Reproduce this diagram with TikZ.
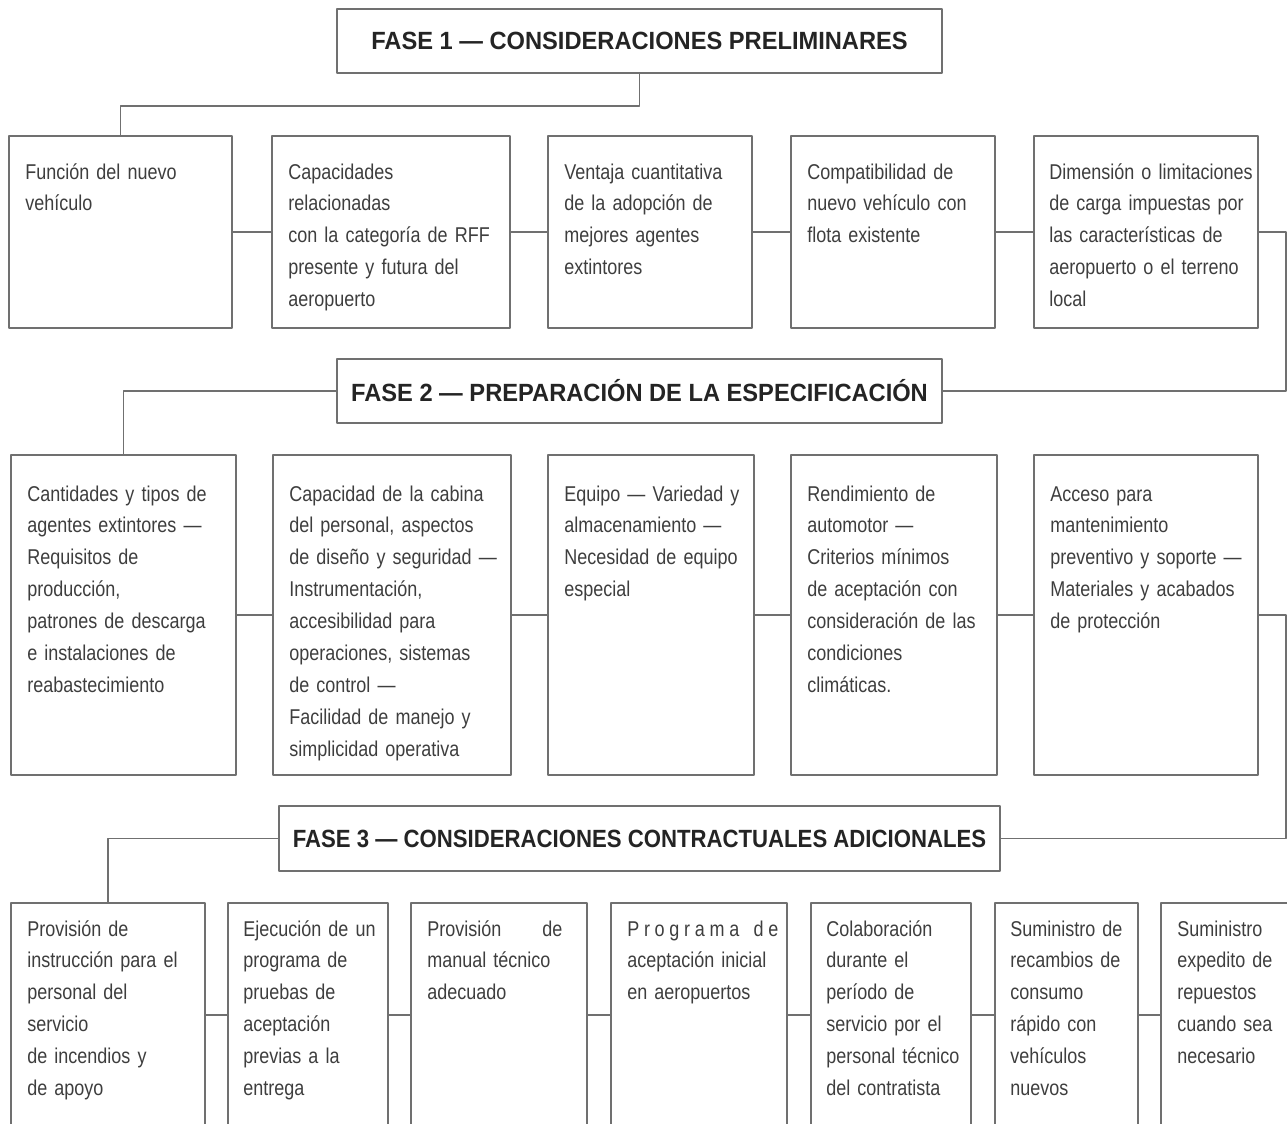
\documentclass[tikz,border=0pt]{standalone}
\usepackage{fontspec}
\setmainfont{Liberation Sans}
\newfontfamily\bodyfont[FakeStretch=0.84]{Liberation Sans}
\newfontfamily\headfont[FakeStretch=0.95]{Liberation Sans}
\newfontfamily\headnarrow[FakeStretch=0.89]{Liberation Sans}
\definecolor{framegray}{RGB}{112,112,112}
\definecolor{inkgray}{RGB}{62,62,62}
\definecolor{headgray}{RGB}{36,36,36}
\newcommand{\spreadline}[2]{\hbox to #1{#2}}
\tikzset{
  fasebox/.style={draw=framegray,line width=1.8bp,rectangle,inner sep=0pt,minimum height=64bp,
    text=headgray,font=\headfont\fontsize{25}{30}\selectfont\bfseries},
  itembox/.style={draw=framegray,line width=1.8bp,rectangle,inner sep=0pt},
  rowone/.style={itembox,minimum height=192bp},
  rowtwo/.style={itembox,minimum height=320bp},
  rowthree/.style={itembox,minimum height=224bp},
  itemtext/.style={anchor=base west,inner sep=0pt,text width=300bp,align=left,
    text=inkgray,font=\bodyfont\fontsize{21.5}{32}\selectfont},
  link/.style={draw=framegray,line width=1.8bp},
}
\begin{document}
\begin{tikzpicture}[line join=bevel,]
    \useasboundingbox[fill=white] (0bp,0bp) rectangle (1287bp,1124bp);
    %% phases
    \node (fase1) at (639.5bp,1083.0bp) [fasebox,minimum width=605bp] {FASE 1 — CONSIDERACIONES PRELIMINARES};
    \node (fase2) at (639.5bp,733.0bp) [fasebox,minimum width=605bp] {FASE 2 — PREPARACIÓN DE LA ESPECIFICACIÓN};
    \node (fase3) at (639.5bp,285.5bp) [fasebox,minimum width=721bp,minimum height=65bp,font=\headnarrow\fontsize{25}{30}\selectfont\bfseries] {FASE 3 — CONSIDERACIONES CONTRACTUALES ADICIONALES};
    %% row 1
    \node (b11) at (120.5bp,892.0bp) [rowone,minimum width=223bp] {};
    \node (b12) at (391.0bp,892.0bp) [rowone,minimum width=238bp] {};
    \node (b13) at (650.0bp,892.0bp) [rowone,minimum width=204bp] {};
    \node (b14) at (893.0bp,892.0bp) [rowone,minimum width=204bp] {};
    \node (b15) at (1146.0bp,892.0bp) [rowone,minimum width=224bp] {};
    \node (t11) at ([shift={(17bp,-44bp)}]b11.north west) [itemtext] {Función del nuevo\\vehículo};
    \node (t12) at ([shift={(17bp,-44bp)}]b12.north west) [itemtext] {Capacidades\\relacionadas\\con la categoría de RFF\\presente y futura del\\aeropuerto};
    \node (t13) at ([shift={(17bp,-44bp)}]b13.north west) [itemtext] {Ventaja cuantitativa\\de la adopción de\\mejores agentes\\extintores};
    \node (t14) at ([shift={(17bp,-44bp)}]b14.north west) [itemtext] {Compatibilidad de\\nuevo vehículo con\\flota existente};
    \node (t15) at ([shift={(16bp,-44bp)}]b15.north west) [itemtext] {Dimensión o limitaciones\\de carga impuestas por\\las características de\\aeropuerto o el terreno\\local};
    %% row 2
    \node (b21) at (123.5bp,509.0bp) [rowtwo,minimum width=225bp] {};
    \node (b22) at (392.0bp,509.0bp) [rowtwo,minimum width=238bp] {};
    \node (b23) at (651.0bp,509.0bp) [rowtwo,minimum width=206bp] {};
    \node (b24) at (894.0bp,509.0bp) [rowtwo,minimum width=206bp] {};
    \node (b25) at (1146.0bp,509.0bp) [rowtwo,minimum width=224bp] {};
    \node (t21) at ([shift={(17bp,-47bp)}]b21.north west) [itemtext] {Cantidades y tipos de\\agentes extintores —\\Requisitos de\\producción,\\patrones de descarga\\e instalaciones de\\reabastecimiento};
    \node (t22) at ([shift={(17bp,-47bp)}]b22.north west) [itemtext] {Capacidad de la cabina\\del personal, aspectos\\de diseño y seguridad —\\Instrumentación,\\accesibilidad para\\operaciones, sistemas\\de control —\\Facilidad de manejo y\\simplicidad operativa};
    \node (t23) at ([shift={(17bp,-47bp)}]b23.north west) [itemtext] {Equipo — Variedad y\\almacenamiento —\\Necesidad de equipo\\especial};
    \node (t24) at ([shift={(17bp,-47bp)}]b24.north west) [itemtext] {Rendimiento de\\automotor —\\Criterios mínimos\\de aceptación con\\consideración de las\\condiciones\\climáticas.};
    \node (t25) at ([shift={(17bp,-47bp)}]b25.north west) [itemtext] {Acceso para\\mantenimiento\\preventivo y soporte —\\Materiales y acabados\\de protección};
    %% row 3
    \node (b31) at (108.0bp,109.0bp) [rowthree,minimum width=194bp] {};
    \node (b32) at (308.0bp,109.0bp) [rowthree,minimum width=160bp] {};
    \node (b33) at (499.0bp,109.0bp) [rowthree,minimum width=176bp] {};
    \node (b34) at (699.0bp,109.0bp) [rowthree,minimum width=176bp] {};
    \node (b35) at (891.0bp,109.0bp) [rowthree,minimum width=160bp] {};
    \node (b36) at (1066.5bp,109.0bp) [rowthree,minimum width=143bp] {};
    \node (b37) at (1236.0bp,109.0bp) [rowthree,minimum width=150bp] {};
    \node (t31) at ([shift={(17bp,-34bp)}]b31.north west) [itemtext] {Provisión de\\instrucción para el\\personal del\\servicio\\de incendios y\\de apoyo};
    \node (t32) at ([shift={(16bp,-34bp)}]b32.north west) [itemtext] {Ejecución de un\\programa de\\pruebas de\\aceptación\\previas a la\\entrega};
    \node (t33) at ([shift={(17bp,-34bp)}]b33.north west) [itemtext] {\spreadline{135bp}{Provisión\hfill de}\\manual técnico\\adecuado};
    \node (t34) at ([shift={(17bp,-34bp)}]b34.north west) [itemtext] {\spreadline{151bp}{P\hfil r\hfil o\hfil g\hfil r\hfil a\hfil m\hfil a\hfil\hfil\hfil d\hfil e}\\aceptación inicial\\en aeropuertos};
    \node (t35) at ([shift={(16bp,-34bp)}]b35.north west) [itemtext] {Colaboración\\durante el\\período de\\servicio por el\\personal técnico\\del contratista};
    \node (t36) at ([shift={(16bp,-34bp)}]b36.north west) [itemtext] {Suministro de\\recambios de\\consumo\\rápido con\\vehículos\\nuevos};
    \node (t37) at ([shift={(17bp,-34bp)}]b37.north west) [itemtext] {Suministro\\expedito de\\repuestos\\cuando sea\\necesario};
    %% connectors
    \draw [link] (fase1.south) -- ++(0bp,-32bp) -| (b11.north);
    \draw [link] (b11) -- (b12);
    \draw [link] (b12) -- (b13);
    \draw [link] (b13) -- (b14);
    \draw [link] (b14) -- (b15);
    \draw [link] (b15.east) -- ++(27bp,0bp) |- (fase2.east);
    \draw [link] (fase2.west) -| (b21.north);
    \draw [link] (b21) -- (b22);
    \draw [link] (b22) -- (b23);
    \draw [link] (b23) -- (b24);
    \draw [link] (b24) -- (b25);
    \draw [link] (b25.east) -- ++(27bp,0bp) |- (fase3.east);
    \draw [link] (fase3.west) -| (b31.north);
    \draw [link] (b31) -- (b32);
    \draw [link] (b32) -- (b33);
    \draw [link] (b33) -- (b34);
    \draw [link] (b34) -- (b35);
    \draw [link] (b35) -- (b36);
    \draw [link] (b36) -- (b37);
    %
\end{tikzpicture}
\end{document}
